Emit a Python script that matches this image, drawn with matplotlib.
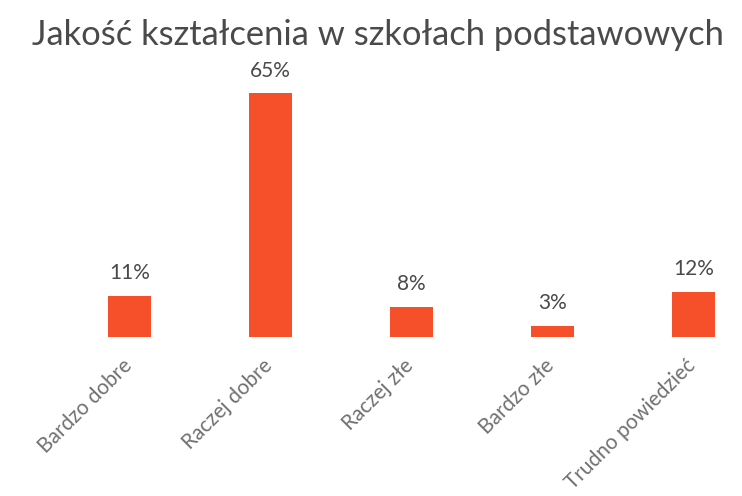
"""Bar chart: Jakość kształcenia w szkołach podstawowych."""

import matplotlib
matplotlib.use("Agg")
import matplotlib.pyplot as plt
from matplotlib.transforms import ScaledTranslation

categories = ["Bardzo dobre", "Raczej dobre", "Raczej złe", "Bardzo złe", "Trudno powiedzieć"]
values = [11, 65, 8, 3, 12]
value_labels = ["11%", "65%", "8%", "3%", "12%"]

plt.rcParams["font.family"] = ["Lato", "DejaVu Sans"]

fig = plt.figure(figsize=(7.42, 4.96), dpi=100)
ax = fig.add_axes([0.0795, 0.3206, 0.950, 0.529])

x = range(len(categories))
ax.bar(x, values, width=0.31, color="#f5502a")
for xi, v, lab in zip(x, values, value_labels):
    ax.text(xi, v + 3.4, lab, ha="center", va="bottom", fontsize=15, color="#4a4a4a")

ax.set_xlim(-0.5, 4.5)
ax.set_ylim(0, 70)
ax.set_xticks(list(x))
ax.set_xticklabels(categories, rotation=45, ha="right", rotation_mode="anchor",
                   fontsize=15, color="#707070")
ax.tick_params(axis="x", length=0, pad=13)
# nudge the slanted labels a bit to the left, like the original
shift = ScaledTranslation(-8 / 100, 0, fig.dpi_scale_trans)
for lbl in ax.get_xticklabels():
    lbl.set_transform(lbl.get_transform() + shift)
ax.set_yticks([])
for spine in ax.spines.values():
    spine.set_visible(False)

fig.text(0.51, 0.93, "Jakość kształcenia w szkołach podstawowych",
         ha="center", va="center", fontsize=24.8, color="#4a4a4a")

fig.savefig("out.png", dpi=100)
plt.close(fig)
